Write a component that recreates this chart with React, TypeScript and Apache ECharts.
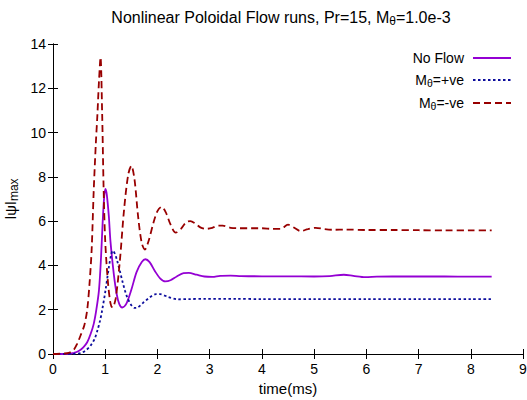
import React, { useEffect, useRef } from "react";
import * as echarts from "echarts";

const seriesNames = ["No Flow", "Mθ=+ve", "Mθ=-ve"];
const xTicks = [0, 1, 2, 3, 4, 5, 6, 7, 8, 9];
const yTicks = [0, 2, 4, 6, 8, 10, 12, 14];

const noFlow: [number, number][] = [
  [0, 0], [0.3, 0.01], [0.4, 0.05], [0.5, 0.15], [0.58, 0.3], [0.655, 0.53], [0.72, 0.9],
  [0.78, 1.36], [0.83, 2.0], [0.88, 2.87], [0.92, 4.37], [0.95, 5.9], [0.98, 7.1], [1.005, 7.46],
  [1.03, 7.2], [1.07, 6.2], [1.1, 5.1], [1.165, 3.6], [1.22, 2.7], [1.27, 2.25], [1.325, 2.1],
  [1.4, 2.25], [1.5, 2.9], [1.6, 3.7], [1.7, 4.15], [1.77, 4.28], [1.85, 4.15], [1.95, 3.75],
  [2.05, 3.42], [2.15, 3.28], [2.25, 3.33], [2.37, 3.5], [2.5, 3.65], [2.6, 3.66], [2.75, 3.58],
  [2.9, 3.5], [3.05, 3.48], [3.2, 3.53], [3.4, 3.54], [3.6, 3.52], [4.0, 3.51], [4.5, 3.51],
  [5.0, 3.5], [5.3, 3.52], [5.57, 3.58], [5.75, 3.53], [5.98, 3.47], [6.2, 3.49], [6.5, 3.5],
  [7.0, 3.5], [7.5, 3.5], [8.0, 3.49], [8.4, 3.49],
];

const plusVe: [number, number][] = [
  [0, 0], [0.4, 0.01], [0.53, 0.04], [0.62, 0.15], [0.72, 0.38], [0.8, 0.7], [0.85, 1.06],
  [0.9, 1.5], [0.94, 1.96], [1.005, 2.87], [1.07, 3.92], [1.11, 4.45], [1.145, 4.67], [1.19, 4.5],
  [1.23, 4.2], [1.28, 3.75], [1.325, 3.32], [1.38, 2.85], [1.42, 2.57], [1.5, 2.2], [1.56, 2.08],
  [1.62, 2.1], [1.72, 2.3], [1.85, 2.55], [1.97, 2.7], [2.05, 2.7], [2.2, 2.58], [2.38, 2.47],
  [2.6, 2.48], [2.9, 2.49], [3.5, 2.49], [4.0, 2.48], [5.0, 2.48], [6.0, 2.48], [7.0, 2.48],
  [8.0, 2.48], [8.4, 2.48],
];

const minusVe: [number, number][] = [
  [0, 0], [0.2, 0.02], [0.3, 0.05], [0.4, 0.2], [0.46, 0.45], [0.53, 0.85], [0.6, 1.3],
  [0.655, 2.0], [0.7, 3.2], [0.74, 4.7], [0.78, 7.4], [0.82, 9.5], [0.85, 10.8], [0.88, 12.3],
  [0.91, 13.4], [0.94, 11.0], [0.97, 7.4], [1.0, 5.1], [1.05, 3.3], [1.1, 2.3], [1.14, 2.1],
  [1.2, 2.5], [1.28, 4.2], [1.36, 6.5], [1.44, 8.1], [1.5, 8.5], [1.56, 7.9], [1.63, 6.2],
  [1.7, 5.0], [1.76, 4.72], [1.83, 5.1], [1.92, 5.9], [2.0, 6.45], [2.08, 6.65], [2.16, 6.4],
  [2.25, 5.85], [2.35, 5.48], [2.45, 5.65], [2.55, 5.95], [2.63, 6.0], [2.72, 5.9], [2.82, 5.72],
  [2.93, 5.65], [3.05, 5.7], [3.17, 5.8], [3.25, 5.8], [3.4, 5.7], [3.55, 5.68], [3.8, 5.68],
  [4.0, 5.68], [4.2, 5.65], [4.36, 5.65], [4.5, 5.84], [4.62, 5.7], [4.74, 5.55], [4.88, 5.64],
  [5.03, 5.7], [5.2, 5.64], [5.37, 5.61], [5.6, 5.62], [6.0, 5.6], [6.5, 5.6], [7.0, 5.59],
  [7.5, 5.58], [8.0, 5.58], [8.4, 5.58],
];

const FONT = "Liberation Sans, Arial, sans-serif";
const PURPLE = "#9400d3";
const BLUE = "#0c0c9c";
const RED = "#980000";

export default function App() {
  const ref = useRef<HTMLDivElement>(null);
  useEffect(() => {
    if (!ref.current) return;
    const chart = echarts.init(ref.current, undefined, { renderer: "svg" });
    const axisCommon = {
      type: "value" as const,
      axisLine: { show: true, lineStyle: { color: "#000", width: 1 } },
      axisTick: { show: true, inside: true, length: 5, lineStyle: { color: "#000", width: 1 } },
      splitLine: { show: false },
    };
    const lineCommon = { type: "line" as const, showSymbol: false, symbol: "none", smooth: 0.3 };
    chart.setOption({
      animation: false,
      backgroundColor: "#fff",
      textStyle: { fontFamily: FONT },
      title: {
        text: "{a|Nonlinear Poloidal Flow runs, Pr=15, M}{s|θ}{a|=1.0e-3}",
        left: 276,
        top: 1,
        textAlign: "center",
        textStyle: {
          fontWeight: "normal",
          rich: {
            a: { fontSize: 16, fontWeight: "normal", fontFamily: FONT, color: "#000", lineHeight: 22 },
            s: { fontSize: 12, fontWeight: "normal", fontFamily: FONT, color: "#000", lineHeight: 22, padding: [7, 0, 0, 0] },
          },
        },
      },
      legend: {
        orient: "vertical",
        right: 10,
        top: 46,
        align: "right",
        itemWidth: 38,
        itemHeight: 14,
        itemGap: 7,
        data: seriesNames,
        itemStyle: { opacity: 0 },
        formatter: (name: string) =>
          name === "No Flow" ? "{e|No Flow}" : "{a|M}{s|θ}{e|" + name.slice(2) + "}",
        textStyle: {
          rich: {
            a: { fontSize: 14, fontFamily: FONT, color: "#000", lineHeight: 14 },
            e: { fontSize: 14, fontFamily: FONT, color: "#000", lineHeight: 14, padding: [0, 4, 0, 0] },
            s: { fontSize: 10.5, fontFamily: FONT, color: "#000", lineHeight: 14, padding: [5, 0, 0, 0] },
          },
        },
      },
      grid: { left: 53, right: 4, top: 44, bottom: 46, outerBoundsMode: "none" },
      xAxis: [
        {
          ...axisCommon,
          position: "bottom",
          min: 0,
          max: 9,
          interval: 1,
          name: "time(ms)",
          nameLocation: "middle",
          nameGap: 26,
          nameTextStyle: { fontSize: 15, color: "#000", fontFamily: FONT },
          axisLabel: { fontSize: 14, color: "#000", margin: 8, fontFamily: FONT, formatter: (v: number) => (xTicks.includes(v) ? String(v) : "") },
        },
        {
          ...axisCommon,
          position: "top",
          min: 0,
          max: 9,
          interval: 1,
          axisLabel: { show: false },
        },
      ],
      yAxis: [
        {
          ...axisCommon,
          position: "left",
          min: 0,
          max: 14,
          interval: 2,
          name: "{a|ǀψǀ}{s|max}",
          nameLocation: "middle",
          nameRotate: 90,
          nameGap: 27,
          nameTextStyle: {
            rich: {
              a: { fontSize: 15, fontFamily: FONT, color: "#000", lineHeight: 20 },
              s: { fontSize: 12, fontFamily: FONT, color: "#000", lineHeight: 20, padding: [6, 0, 0, 0] },
            },
          },
          axisLabel: { fontSize: 14, color: "#000", margin: 7, fontFamily: FONT, formatter: (v: number) => (yTicks.includes(v) ? String(v) : "") },
        },
        {
          ...axisCommon,
          position: "right",
          min: 0,
          max: 14,
          interval: 2,
          axisLabel: { show: false },
        },
      ],
      series: [
        {
          ...lineCommon,
          name: seriesNames[0],
          data: noFlow,
          lineStyle: { color: PURPLE, width: 1.8, type: "solid" },
          itemStyle: { color: PURPLE },
        },
        {
          ...lineCommon,
          name: seriesNames[1],
          data: plusVe,
          lineStyle: { color: BLUE, width: 1.8, type: [2.5, 2.5] },
          itemStyle: { color: BLUE },
        },
        {
          ...lineCommon,
          name: seriesNames[2],
          data: minusVe,
          lineStyle: { color: RED, width: 1.8, type: [7, 4] },
          itemStyle: { color: RED },
        },
      ],
    });
    return () => chart.dispose();
  }, []);
  return <div ref={ref} style={{ width: 527, height: 400, position: "absolute", left: 0, top: 0 }} />;
}
